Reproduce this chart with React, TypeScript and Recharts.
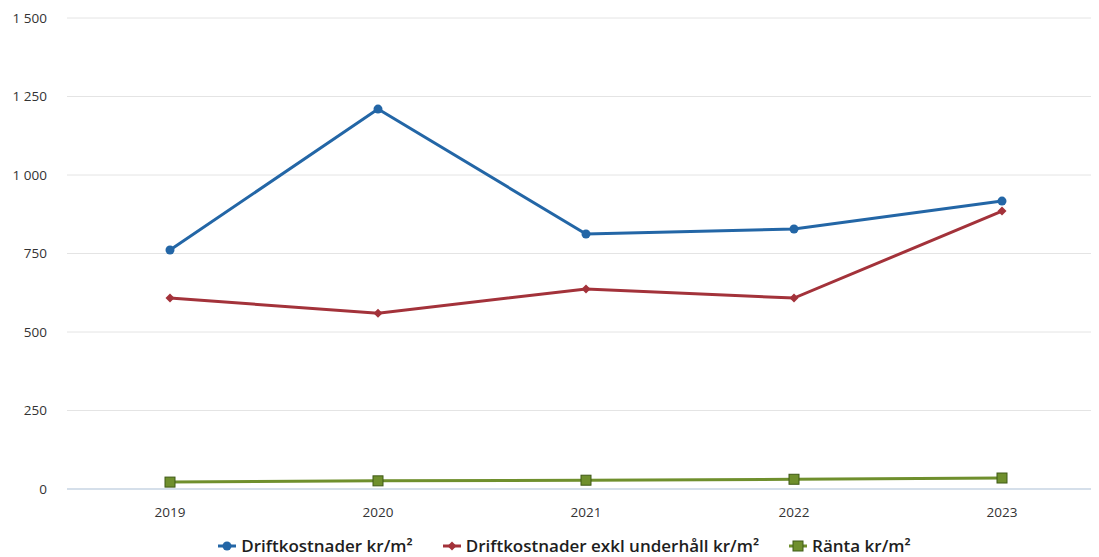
import React from "react";
import {CartesianGrid, Legend, Line, LineChart, XAxis, YAxis} from "recharts";

const years = ["2019", "2020", "2021", "2022", "2023"];
const driftkostnader = [761, 1210, 812, 828, 917];
const driftExklUnderhall = [608, 560, 637, 608, 885];
const ranta = [22, 26, 28, 31, 35];
const yTicks = [0, 250, 500, 750, 1000, 1250, 1500];

const data = years.map((year, i) => ({
    year,
    drift: driftkostnader[i],
    exkl: driftExklUnderhall[i],
    ranta: ranta[i],
}));

const fmt = (v: number) => String(v).replace(/\B(?=(\d{3})+(?!\d))/g, " ");

const Diamond = (props: any) => {
    const {cx, cy, fill} = props;
    if (cx == null || cy == null) return null;
    return <path d={`M${cx} ${cy - 4.5}L${cx + 4.5} ${cy}L${cx} ${cy + 4.5}L${cx - 4.5} ${cy}Z`} fill={fill}/>;
};

const Square = (props: any) => {
    const {cx, cy} = props;
    if (cx == null || cy == null) return null;
    return <rect x={cx - 5} y={cy - 5} width={10} height={10} fill="#6f8f2d" stroke="#3f5a17" strokeWidth={1}/>;
};

const legendItems = [
    {label: "Driftkostnader kr/m²", color: "#2366a6", shape: "circle"},
    {label: "Driftkostnader exkl underhåll kr/m²", color: "#a3323a", shape: "diamond"},
    {label: "Ränta kr/m²", color: "#6f8f2d", shape: "square"},
];

const LegendContent = () => (
    <div style={{display: "flex", justifyContent: "center", gap: 30, fontFamily: "'Open Sans', sans-serif",
        fontSize: 17, fontWeight: 600, color: "#1e1e1e", paddingLeft: 30, lineHeight: "22px"}}>
        {legendItems.map(item => (
            <div key={item.label} style={{display: "flex", alignItems: "center", gap: 5}}>
                <svg width={18} height={12}>
                    <line x1={0} y1={6} x2={18} y2={6} stroke={item.color} strokeWidth={3}/>
                    {item.shape === "circle" && <circle cx={9} cy={6} r={4.5} fill={item.color}/>}
                    {item.shape === "diamond" && <path d="M9 1.5L13.5 6L9 10.5L4.5 6Z" fill={item.color}/>}
                    {item.shape === "square" && <rect x={4} y={1} width={10} height={10} fill={item.color} stroke="#3f5a17"/>}
                </svg>
                <span>{item.label}</span>
            </div>
        ))}
    </div>
);

const App: React.FC = () => {
    return <div style={{margin: "-8px 0 0 -8px", width: 1099, height: 557, background: "#fff"}}>
        <LineChart
            width={1099}
            height={557}
            data={data}
            margin={{top: 18, right: 0, bottom: 0, left: 0}}
        >
            <CartesianGrid vertical={false} stroke="#e4e4e4"/>
            <XAxis dataKey="year" axisLine={{stroke: "#b9cde3"}} tickLine={false} tickMargin={12} height={46}
                   padding={{left: 103, right: 97}}
                   tick={{fill: "#333", fontSize: 13.5, fontFamily: "'Open Sans', sans-serif"}}/>
            <YAxis domain={[0, 1500]} ticks={yTicks} width={67} axisLine={false} tickLine={false} tickSize={0}
                   tickMargin={20} tickFormatter={fmt}
                   tick={{fill: "#333", fontSize: 13.5, fontFamily: "'Open Sans', sans-serif"}}/>
            <Line dataKey="drift" stroke="#2366a6" strokeWidth={3} isAnimationActive={false}
                  dot={{r: 4.5, fill: "#2366a6", stroke: "#2366a6", strokeWidth: 0}}/>
            <Line dataKey="exkl" stroke="#a3323a" strokeWidth={3} isAnimationActive={false}
                  dot={<Diamond fill="#a3323a"/>}/>
            <Line dataKey="ranta" stroke="#6f8f2d" strokeWidth={3} isAnimationActive={false}
                  dot={<Square/>}/>
            <Legend verticalAlign="bottom" height={22} content={<LegendContent/>}/>
        </LineChart>
    </div>
}

export default App
